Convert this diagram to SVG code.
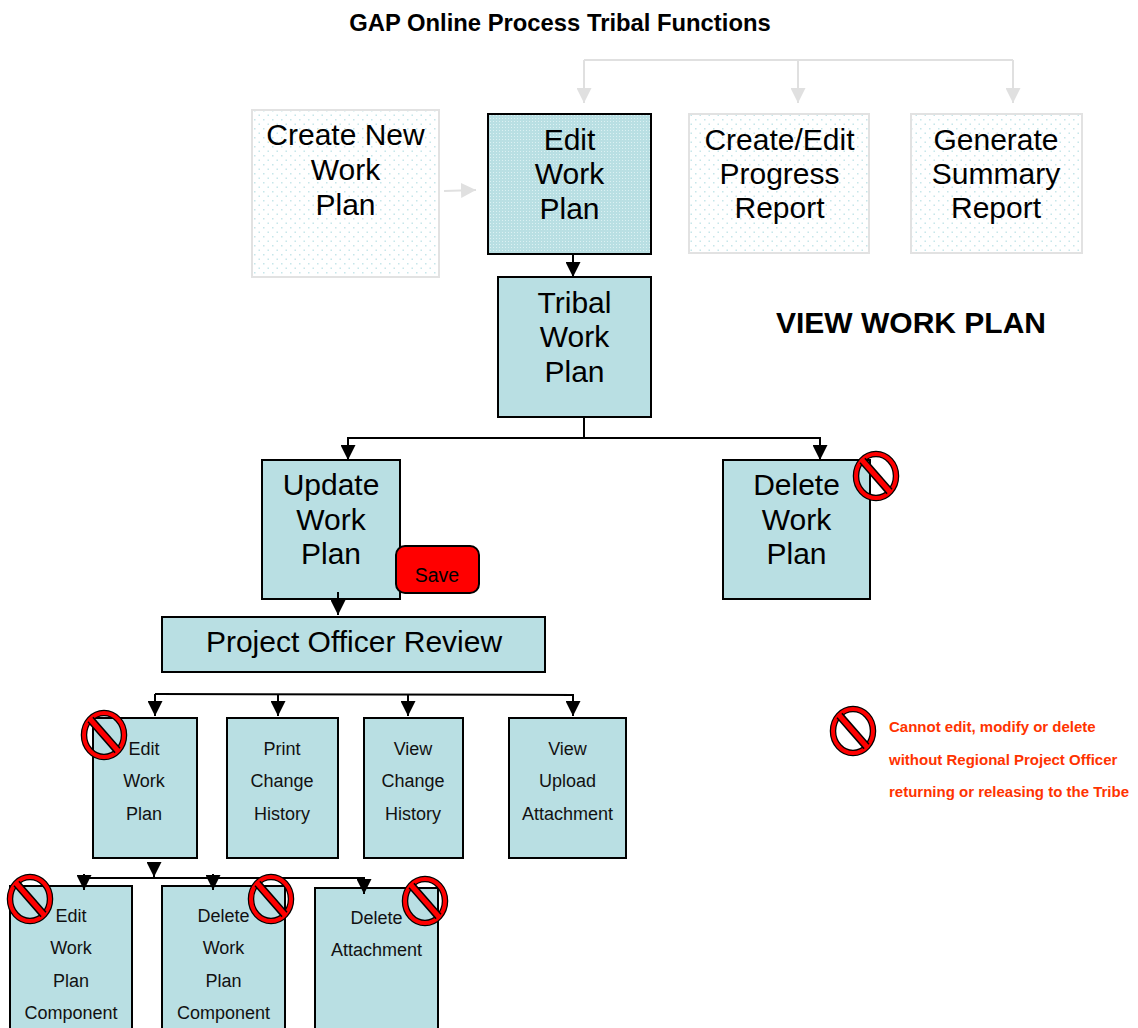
<svg xmlns="http://www.w3.org/2000/svg" xmlns:xlink="http://www.w3.org/1999/xlink" width="1138" height="1028" viewBox="0 0 1138 1028">
<style>
text{font-family:"Liberation Sans",Arial,sans-serif;text-anchor:middle;fill:#000}
.lg{font-size:30px}
.sm{font-size:18px;fill:#111}
.box{fill:#b9dfe3;stroke:#000;stroke-width:2}
.pale{fill:url(#dots);stroke:#e2e2e2;stroke-width:2}
.note{font-size:15px;font-weight:bold;fill:#ff3300;text-anchor:start}
.blk{fill:none;stroke:#000;stroke-width:2}
.gry{fill:none;stroke:#e0e0e0;stroke-width:2}
</style>
<defs>
<pattern id="dots" width="9" height="9" patternUnits="userSpaceOnUse">
<rect width="9" height="9" fill="#fff"/>
<rect x="2" y="2" width="1.5" height="1.5" fill="#c6e6ea"/>
<rect x="6.500" y="6.500" width="1.5" height="1.5" fill="#c6e6ea"/>
</pattern>
<pattern id="fine" width="3" height="3" patternUnits="userSpaceOnUse">
<rect width="3" height="3" fill="#b9dfe3"/>
<rect x="1" y="1" width="1" height="1" fill="#dcf1f3"/>
</pattern>
<marker id="ab" viewBox="0 0 15 15" refX="15" refY="7.500" markerWidth="15" markerHeight="15" markerUnits="userSpaceOnUse" orient="auto"><path d="M0 0L15 7.500L0 15Z" fill="#000"/></marker>
<marker id="ag" viewBox="0 0 15 15" refX="15" refY="7.500" markerWidth="15" markerHeight="15" markerUnits="userSpaceOnUse" orient="auto"><path d="M0 0L15 7.500L0 15Z" fill="#e0e0e0"/></marker>
<g id="ban">
<ellipse rx="20" ry="22" fill="none" stroke="#000" stroke-width="6.500"/>
<ellipse rx="20" ry="22" fill="none" stroke="#f00" stroke-width="4"/>
<path d="M-13.500-15.500L13.500 15.500" stroke="#000" stroke-width="8"/>
<path d="M-14.500-16.500L14.500 16.500" stroke="#f00" stroke-width="5"/>
</g>
</defs>
<text x="560" y="31" font-size="23.800" font-weight="bold">GAP Online Process Tribal Functions</text>
<text x="911" y="333" font-size="30" font-weight="bold">VIEW WORK PLAN</text>

<g id="n-create"><rect class="pale" x="252" y="110" width="187" height="167"/>
<text class="lg" x="345.500" y="145">Create New</text><text class="lg" x="345.500" y="180">Work</text><text class="lg" x="345.500" y="215">Plan</text></g>
<g id="n-edit"><rect class="box" style="fill:url(#fine)" x="488" y="114" width="163" height="140"/>
<text class="lg" x="569.500" y="150">Edit</text><text class="lg" x="569.500" y="184">Work</text><text class="lg" x="569.500" y="219">Plan</text></g>
<g id="n-progress"><rect class="pale" x="689" y="114" width="180" height="139"/>
<text class="lg" x="779.500" y="150">Create/Edit</text><text class="lg" x="779.500" y="184">Progress</text><text class="lg" x="779.500" y="218">Report</text></g>
<g id="n-summary"><rect class="pale" x="911" y="114" width="171" height="139"/>
<text class="lg" x="996" y="150">Generate</text><text class="lg" x="996" y="184">Summary</text><text class="lg" x="996" y="218">Report</text></g>
<g id="n-tribal"><rect class="box" x="498" y="277" width="153" height="140"/>
<text class="lg" x="574.500" y="313">Tribal</text><text class="lg" x="574.500" y="347">Work</text><text class="lg" x="574.500" y="382">Plan</text></g>
<g id="n-update"><rect class="box" x="262" y="460" width="138" height="139"/>
<text class="lg" x="331" y="495">Update</text><text class="lg" x="331" y="530">Work</text><text class="lg" x="331" y="564">Plan</text></g>
<g id="n-save"><rect x="396" y="546" width="83" height="47" rx="9" fill="#f00" stroke="#000" stroke-width="2"/>
<text x="437" y="582" font-size="19.500">Save</text></g>
<g id="n-delete"><rect class="box" x="723" y="460" width="147" height="139"/>
<text class="lg" x="796.500" y="495">Delete</text><text class="lg" x="796.500" y="530">Work</text><text class="lg" x="796.500" y="564">Plan</text></g>
<g id="n-review"><rect class="box" x="162" y="617" width="383" height="55"/>
<text class="lg" x="354" y="652">Project Officer Review</text></g>

<g id="n-editplan"><rect class="box" x="93" y="718" width="104" height="140"/>
<text class="sm" x="144" y="755">Edit</text><text class="sm" x="144" y="787">Work</text><text class="sm" x="144" y="820">Plan</text></g>
<g id="n-print"><rect class="box" x="227" y="718" width="111" height="140"/>
<text class="sm" x="282" y="755">Print</text><text class="sm" x="282" y="787">Change</text><text class="sm" x="282" y="820">History</text></g>
<g id="n-view"><rect class="box" x="364" y="718" width="99" height="140"/>
<text class="sm" x="413" y="755">View</text><text class="sm" x="413" y="787">Change</text><text class="sm" x="413" y="820">History</text></g>
<g id="n-upload"><rect class="box" x="509" y="718" width="117" height="140"/>
<text class="sm" x="567.500" y="755">View</text><text class="sm" x="567.500" y="787">Upload</text><text class="sm" x="567.500" y="820">Attachment</text></g>

<g id="n-editcomp"><rect class="box" x="10" y="886" width="122" height="150"/>
<text class="sm" x="71" y="922">Edit</text><text class="sm" x="71" y="954">Work</text><text class="sm" x="71" y="987">Plan</text><text class="sm" x="71" y="1019">Component</text></g>
<g id="n-delcomp"><rect class="box" x="162" y="886" width="123" height="150"/>
<text class="sm" x="223.500" y="922">Delete</text><text class="sm" x="223.500" y="954">Work</text><text class="sm" x="223.500" y="987">Plan</text><text class="sm" x="223.500" y="1019">Component</text></g>
<g id="n-delattach"><rect class="box" x="315" y="888" width="123" height="150"/>
<text class="sm" x="376.500" y="924">Delete</text><text class="sm" x="376.500" y="956">Attachment</text></g>

<g id="connectors">
<path class="gry" d="M584 60H1013"/>
<path class="gry" d="M584 60V103" marker-end="url(#ag)"/>
<path class="gry" d="M798 60V103" marker-end="url(#ag)"/>
<path class="gry" d="M1013 60V103" marker-end="url(#ag)"/>
<path class="gry" d="M444 191L476 190" marker-end="url(#ag)"/>
<path class="blk" d="M573 255V277" marker-end="url(#ab)"/>
<path class="blk" d="M584 417V438H348V460" marker-end="url(#ab)"/>
<path class="blk" d="M584 438H820V460" marker-end="url(#ab)"/>
<path class="blk" d="M338 592V615" marker-end="url(#ab)"/>
<path class="blk" d="M155 694L573 695V716" marker-end="url(#ab)"/>
<path class="blk" d="M155 694V716" marker-end="url(#ab)"/>
<path class="blk" d="M278 694V716" marker-end="url(#ab)"/>
<path class="blk" d="M408 694V716" marker-end="url(#ab)"/>
<path class="blk" d="M154 862V877" marker-end="url(#ab)"/>
<path class="blk" d="M84 878H364V894" marker-end="url(#ab)"/>
<path class="blk" d="M84 874V890" marker-end="url(#ab)"/>
<path class="blk" d="M213 874V890" marker-end="url(#ab)"/>
</g>

<g id="ban-marks">
<use xlink:href="#ban" href="#ban" x="876" y="476"/>
<use xlink:href="#ban" href="#ban" x="104" y="735"/>
<use xlink:href="#ban" href="#ban" x="30" y="899"/>
<use xlink:href="#ban" href="#ban" x="271" y="899"/>
<use xlink:href="#ban" href="#ban" x="425" y="901"/>
</g>

<g id="legend"><use xlink:href="#ban" href="#ban" x="853" y="731"/>
<text class="note" x="889" y="732">Cannot edit, modify or delete</text>
<text class="note" x="889" y="765">without Regional Project Officer</text>
<text class="note" x="889" y="797">returning or releasing to the Tribe</text></g>
</svg>
